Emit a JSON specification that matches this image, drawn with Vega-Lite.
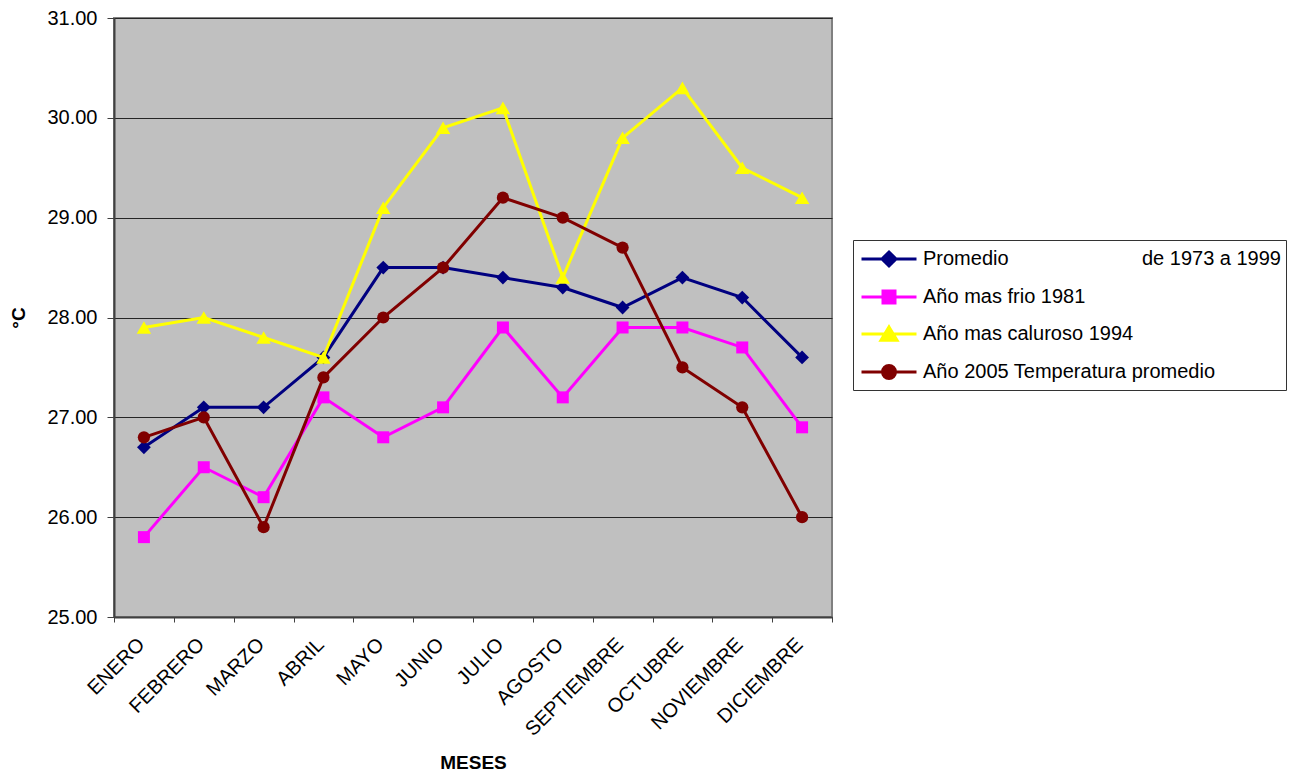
{
  "$schema": "https://vega.github.io/schema/vega-lite/v6.json",
  "width": 718,
  "height": 599,
  "autosize": "none",
  "padding": {"left": 114, "top": 18, "right": 468, "bottom": 161},
  "background": "white",
  "config": {
    "font": "Liberation Sans",
    "view": {"fill": "#C0C0C0", "stroke": "#808080", "strokeWidth": 2}
  },
  "data": {
    "values": [
      {"mes": "ENERO", "serie": "Promedio de 1973 a 1999", "t": 26.7},
      {"mes": "FEBRERO", "serie": "Promedio de 1973 a 1999", "t": 27.1},
      {"mes": "MARZO", "serie": "Promedio de 1973 a 1999", "t": 27.1},
      {"mes": "ABRIL", "serie": "Promedio de 1973 a 1999", "t": 27.6},
      {"mes": "MAYO", "serie": "Promedio de 1973 a 1999", "t": 28.5},
      {"mes": "JUNIO", "serie": "Promedio de 1973 a 1999", "t": 28.5},
      {"mes": "JULIO", "serie": "Promedio de 1973 a 1999", "t": 28.4},
      {"mes": "AGOSTO", "serie": "Promedio de 1973 a 1999", "t": 28.3},
      {"mes": "SEPTIEMBRE", "serie": "Promedio de 1973 a 1999", "t": 28.1},
      {"mes": "OCTUBRE", "serie": "Promedio de 1973 a 1999", "t": 28.4},
      {"mes": "NOVIEMBRE", "serie": "Promedio de 1973 a 1999", "t": 28.2},
      {"mes": "DICIEMBRE", "serie": "Promedio de 1973 a 1999", "t": 27.6},
      {"mes": "ENERO", "serie": "Año mas frio 1981", "t": 25.8},
      {"mes": "FEBRERO", "serie": "Año mas frio 1981", "t": 26.5},
      {"mes": "MARZO", "serie": "Año mas frio 1981", "t": 26.2},
      {"mes": "ABRIL", "serie": "Año mas frio 1981", "t": 27.2},
      {"mes": "MAYO", "serie": "Año mas frio 1981", "t": 26.8},
      {"mes": "JUNIO", "serie": "Año mas frio 1981", "t": 27.1},
      {"mes": "JULIO", "serie": "Año mas frio 1981", "t": 27.9},
      {"mes": "AGOSTO", "serie": "Año mas frio 1981", "t": 27.2},
      {"mes": "SEPTIEMBRE", "serie": "Año mas frio 1981", "t": 27.9},
      {"mes": "OCTUBRE", "serie": "Año mas frio 1981", "t": 27.9},
      {"mes": "NOVIEMBRE", "serie": "Año mas frio 1981", "t": 27.7},
      {"mes": "DICIEMBRE", "serie": "Año mas frio 1981", "t": 26.9},
      {"mes": "ENERO", "serie": "Año mas caluroso 1994", "t": 27.9},
      {"mes": "FEBRERO", "serie": "Año mas caluroso 1994", "t": 28.0},
      {"mes": "MARZO", "serie": "Año mas caluroso 1994", "t": 27.8},
      {"mes": "ABRIL", "serie": "Año mas caluroso 1994", "t": 27.6},
      {"mes": "MAYO", "serie": "Año mas caluroso 1994", "t": 29.1},
      {"mes": "JUNIO", "serie": "Año mas caluroso 1994", "t": 29.9},
      {"mes": "JULIO", "serie": "Año mas caluroso 1994", "t": 30.1},
      {"mes": "AGOSTO", "serie": "Año mas caluroso 1994", "t": 28.4},
      {"mes": "SEPTIEMBRE", "serie": "Año mas caluroso 1994", "t": 29.8},
      {"mes": "OCTUBRE", "serie": "Año mas caluroso 1994", "t": 30.3},
      {"mes": "NOVIEMBRE", "serie": "Año mas caluroso 1994", "t": 29.5},
      {"mes": "DICIEMBRE", "serie": "Año mas caluroso 1994", "t": 29.2},
      {"mes": "ENERO", "serie": "Año 2005 Temperatura promedio", "t": 26.8},
      {"mes": "FEBRERO", "serie": "Año 2005 Temperatura promedio", "t": 27.0},
      {"mes": "MARZO", "serie": "Año 2005 Temperatura promedio", "t": 25.9},
      {"mes": "ABRIL", "serie": "Año 2005 Temperatura promedio", "t": 27.4},
      {"mes": "MAYO", "serie": "Año 2005 Temperatura promedio", "t": 28.0},
      {"mes": "JUNIO", "serie": "Año 2005 Temperatura promedio", "t": 28.5},
      {"mes": "JULIO", "serie": "Año 2005 Temperatura promedio", "t": 29.2},
      {"mes": "AGOSTO", "serie": "Año 2005 Temperatura promedio", "t": 29.0},
      {"mes": "SEPTIEMBRE", "serie": "Año 2005 Temperatura promedio", "t": 28.7},
      {"mes": "OCTUBRE", "serie": "Año 2005 Temperatura promedio", "t": 27.5},
      {"mes": "NOVIEMBRE", "serie": "Año 2005 Temperatura promedio", "t": 27.1},
      {"mes": "DICIEMBRE", "serie": "Año 2005 Temperatura promedio", "t": 26.0}
    ]
  },
  "encoding": {
    "x": {
      "field": "mes",
      "type": "nominal",
      "bandPosition": 0.5,
      "sort": ["ENERO", "FEBRERO", "MARZO", "ABRIL", "MAYO", "JUNIO", "JULIO", "AGOSTO", "SEPTIEMBRE", "OCTUBRE", "NOVIEMBRE", "DICIEMBRE"],
      "scale": {"type": "band", "paddingInner": 0, "paddingOuter": 0},
      "axis": {
        "title": "MESES",
        "titleFont": "Liberation Sans",
        "titleFontSize": 19,
        "titleFontWeight": "bold",
        "titleColor": "#000000",
        "titlePadding": 14,
        "labelAngle": -45,
        "labelFont": "Liberation Sans",
        "labelFontSize": 20,
        "labelColor": "#000000",
        "labelPadding": 12,
        "labelOffset": -10,
        "tickBand": "extent",
        "tickSize": 5,
        "tickColor": "#404040",
        "domainColor": "#404040",
        "domainWidth": 2,
        "grid": false
      }
    },
    "y": {
      "field": "t",
      "type": "quantitative",
      "scale": {"domain": [25, 31], "nice": false, "zero": false},
      "axis": {
        "title": "°C",
        "titleFont": "Liberation Sans",
        "titleFontSize": 19,
        "titleFontWeight": "bold",
        "titleColor": "#000000",
        "titlePadding": 18,
        "values": [25, 26, 27, 28, 29, 30, 31],
        "format": ".2f",
        "labelFont": "Liberation Sans",
        "labelFontSize": 20,
        "labelColor": "#000000",
        "labelPadding": 10,
        "tickSize": 7,
        "tickColor": "#404040",
        "domainColor": "#404040",
        "domainWidth": 2,
        "grid": true,
        "gridColor": "#262626",
        "gridWidth": 1
      }
    },
    "color": {
      "field": "serie",
      "type": "nominal",
      "scale": {
        "domain": ["Promedio de 1973 a 1999", "Año mas frio 1981", "Año mas caluroso 1994", "Año 2005 Temperatura promedio"],
        "range": ["#000080", "#FF00FF", "#FFFF00", "#800000"]
      },
      "legend": {
        "title": null,
        "orient": "none",
        "legendX": 739,
        "legendY": 222,
        "padding": 5,
        "strokeColor": "#333333",
        "fillColor": "#FFFFFF",
        "labelFont": "Liberation Sans",
        "labelFontSize": 20,
        "labelColor": "#000000",
        "labelLimit": 0,
        "labelOffset": 20,
        "symbolOffset": 17,
        "symbolSize": 625,
        "symbolStrokeWidth": 3,
        "rowPadding": 11,
        "labelExpr": "indexof(datum.label, 'Promedio') === 0 ? 'Promedio' + pad('', 24, '\u00a0') + 'de 1973 a 1999\u00a0' : datum.label",
        "encode": {
          "symbols": {
            "update": {
              "shape": {"signal": "indexof(datum.value, 'Promedio') === 0 ? 'M-2.2,0H2.2M0,-0.56L0.56,0L0,0.56L-0.56,0Z' : indexof(datum.value, 'frio') >= 0 ? 'M-2.2,0H2.2M-0.48,-0.48H0.48V0.48H-0.48Z' : indexof(datum.value, 'caluroso') >= 0 ? 'M-2.2,0H2.2M0,-0.56L0.64,0.5L-0.64,0.5Z' : 'M-2.2,0H2.2M-0.52,0A0.52,0.52 0 1,0 0.52,0A0.52,0.52 0 1,0 -0.52,0Z'"},
              "fill": {"scale": "color", "field": "value"},
              "stroke": {"scale": "color", "field": "value"},
              "strokeWidth": {"value": 3},
              "opacity": {"value": 1}
            }
          }
        }
      }
    }
  },
  "layer": [
    {
      "transform": [{"filter": "datum.serie === 'Promedio de 1973 a 1999'"}],
      "layer": [
        {"mark": {"type": "line", "strokeWidth": 3}},
        {"mark": {"type": "point", "shape": "diamond", "size": 190, "filled": true, "opacity": 1}}
      ]
    },
    {
      "transform": [{"filter": "datum.serie === 'Año mas frio 1981'"}],
      "layer": [
        {"mark": {"type": "line", "strokeWidth": 3}},
        {"mark": {"type": "point", "shape": "square", "size": 144, "filled": true, "opacity": 1}}
      ]
    },
    {
      "transform": [{"filter": "datum.serie === 'Año mas caluroso 1994'"}],
      "layer": [
        {"mark": {"type": "line", "strokeWidth": 3}},
        {"mark": {"type": "point", "shape": "triangle-up", "size": 210, "filled": true, "opacity": 1}}
      ]
    },
    {
      "transform": [{"filter": "datum.serie === 'Año 2005 Temperatura promedio'"}],
      "layer": [
        {"mark": {"type": "line", "strokeWidth": 3}},
        {"mark": {"type": "point", "shape": "circle", "size": 150, "filled": true, "opacity": 1}}
      ]
    }
  ]
}
